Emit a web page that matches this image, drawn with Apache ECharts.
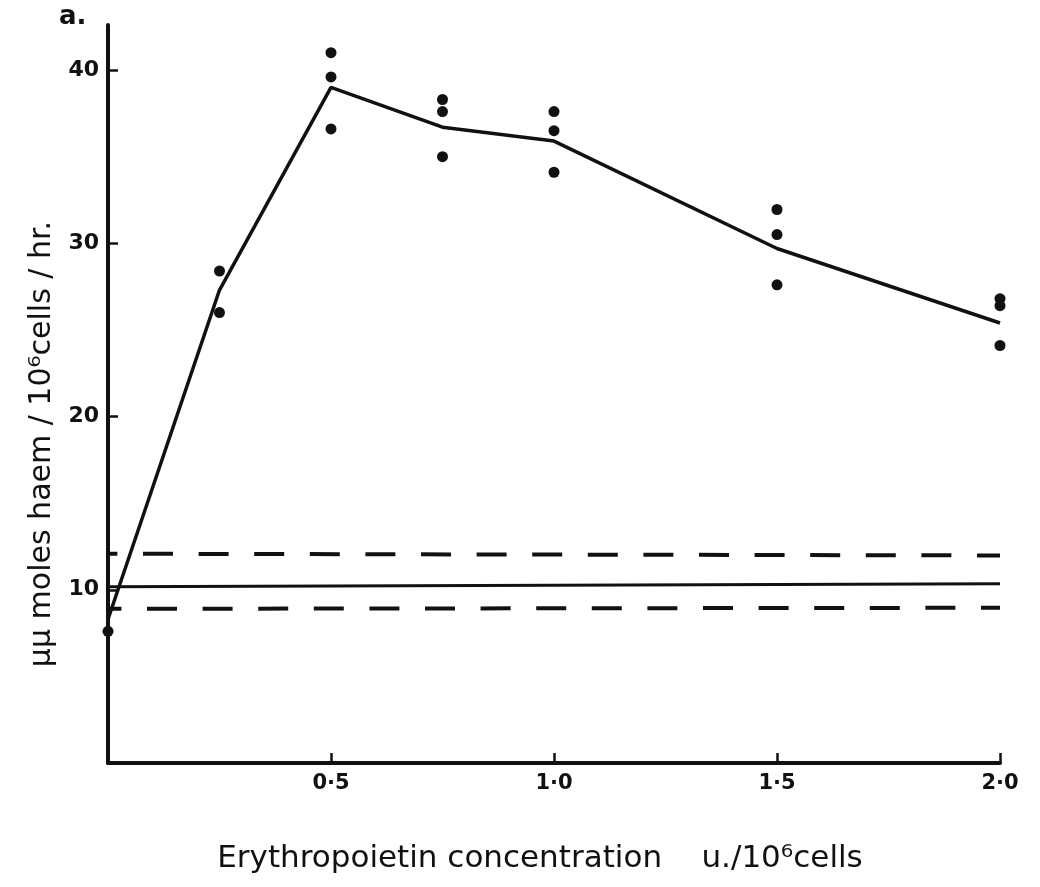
<!DOCTYPE html>
<html>
<head>
<meta charset="utf-8">
<title>Erythropoietin haem synthesis</title>
<script src="https://cdn.jsdelivr.net/npm/echarts@6/dist/echarts.min.js"></script>
<style>
  html, body { margin: 0; padding: 0; background: #ffffff; }
  #chart { width: 1040px; height: 887px; }
</style>
</head>
<body>
<div id="chart"></div>
<script>
// ---- data ----
const meanConc = [0, 0.25, 0.5, 0.75, 1.0, 1.5, 2.0];
const meanHaem = [8.3, 27.3, 39.0, 36.7, 35.9, 29.7, 25.4];

const obsConc = [0, 0.25, 0.25, 0.5, 0.5, 0.5, 0.75, 0.75, 0.75, 1.0, 1.0, 1.0, 1.5, 1.5, 1.5, 2.0, 2.0, 2.0];
const obsHaem = [7.6, 28.4, 26.0, 41.0, 39.6, 36.6, 38.3, 37.6, 35.0, 37.6, 36.5, 34.1, 31.95, 30.5, 27.6, 26.8, 26.4, 24.1];

const baseConc = [0, 2.0];
const baseMean = [10.17, 10.35];
const baseUpper = [12.08, 11.98];
const baseLower = [8.9, 8.96];

const yTicks = [10, 20, 30, 40];
const xTicks = [0.5, 1.0, 1.5, 2.0];

const panelLabel = 'a.';
const xName = 'Erythropoietin concentration    u./10\u2076cells';
const yName = '\u03bc\u03bc moles haem / 10\u2076cells / hr.';

// ---- build chart ----
const pairs = (xs, ys) => xs.map((x, i) => [x, ys[i]]);
const font = 'DejaVu Sans';
const ink = '#111111';

const chart = echarts.init(document.getElementById('chart'), null, { renderer: 'canvas' });
chart.setOption({
  animation: false,
  backgroundColor: '#ffffff',
  title: {
    text: panelLabel,
    left: 54, top: -1,
    textStyle: { fontFamily: font, fontWeight: 'bold', fontSize: 26, color: ink }
  },
  grid: { left: 108, right: 40, top: 25, bottom: 124, containLabel: false },
  xAxis: {
    type: 'value',
    min: 0, max: 2.0,
    name: xName,
    nameLocation: 'middle',
    nameGap: 80,
    nameTextStyle: { fontFamily: font, fontSize: 31, color: ink, padding: [0, 28, 0, 0] },
    splitLine: { show: false },
    axisLine: { show: true, lineStyle: { color: ink, width: 4 } },
    axisTick: { show: true, inside: true, length: 10, customValues: xTicks, lineStyle: { color: ink, width: 2.5 } },
    axisLabel: {
      show: true, customValues: xTicks, margin: 10,
      fontFamily: font, fontWeight: 'bold', fontSize: 21, color: ink,
      formatter: v => v.toFixed(1).replace('.', '\u00b7')
    }
  },
  yAxis: {
    type: 'value',
    min: 0, max: 42.6,
    name: yName,
    nameLocation: 'middle',
    nameGap: 50,
    nameTextStyle: { fontFamily: font, fontSize: 30, color: ink, padding: [0, 100, 0, 0] },
    splitLine: { show: false },
    axisLine: { show: true, lineStyle: { color: ink, width: 4 } },
    axisTick: { show: true, inside: true, length: 10, customValues: yTicks, lineStyle: { color: ink, width: 2.5 } },
    axisLabel: {
      show: true, customValues: yTicks, margin: 9,
      fontFamily: font, fontWeight: 'bold', fontSize: 22, color: ink
    }
  },
  series: [
    {
      type: 'line', data: pairs(meanConc, meanHaem),
      showSymbol: false, symbol: 'none',
      lineStyle: { color: ink, width: 3.5 }, z: 3
    },
    {
      type: 'scatter', data: pairs(obsConc, obsHaem),
      symbol: 'circle', symbolSize: 11,
      itemStyle: { color: ink, opacity: 1 }, z: 4
    },
    {
      type: 'line', data: pairs(baseConc, baseMean),
      showSymbol: false, symbol: 'none',
      lineStyle: { color: ink, width: 3 }
    },
    {
      type: 'line', data: pairs(baseConc, baseUpper),
      showSymbol: false, symbol: 'none',
      lineStyle: { color: ink, width: 4, type: [30, 25.6], dashOffset: 20.6 }
    },
    {
      type: 'line', data: pairs(baseConc, baseLower),
      showSymbol: false, symbol: 'none',
      lineStyle: { color: ink, width: 4, type: [30, 25.6], dashOffset: 16.6 }
    }
  ]
});
</script>
</body>
</html>
